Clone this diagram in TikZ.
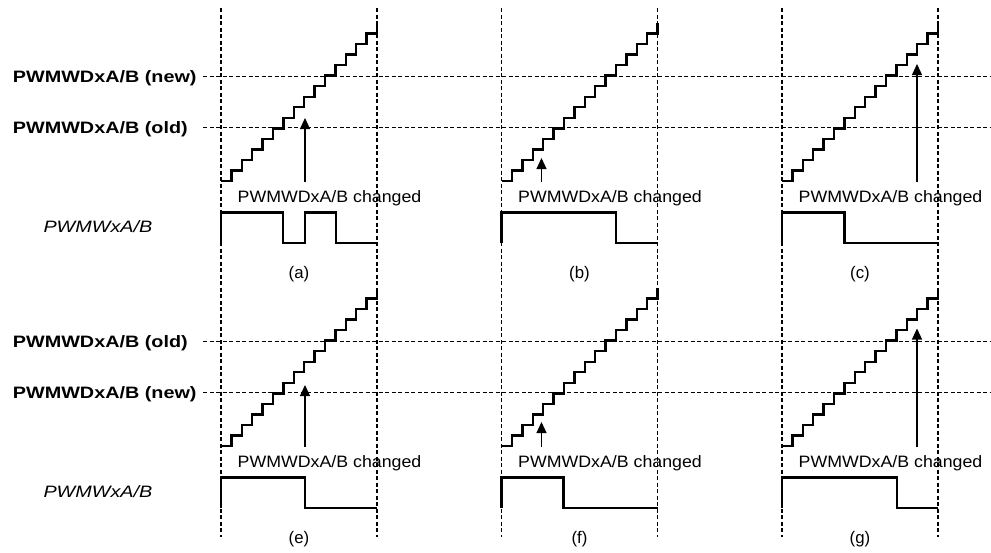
\documentclass[tikz,border=0pt]{standalone}
\usepackage{fontspec}
\setmainfont{Liberation Sans}
\newfontfamily\widefont[FakeStretch=1.2]{Liberation Sans}
\newfontfamily\chgfont[FakeStretch=1.077]{Liberation Sans}
\usetikzlibrary{arrows.meta}
\tikzset{
  stair/.style={line width=2.4pt, line join=miter},
  wave/.style={line width=2.4pt, line join=miter},
  dsh/.style={line width=1.1pt, dash pattern=on 4pt off 2.5pt},
  arr/.style={line width=1.1pt, -{Triangle[length=11pt,width=10pt]}},
  chg/.style={anchor=base, inner sep=0pt, font=\chgfont\fontsize{16.5}{19}\selectfont},
  plbl/.style={anchor=base, inner sep=0pt, font=\fontsize{16.8}{19}\selectfont},
  lvl/.style={anchor=base west, inner sep=0pt, font=\widefont\bfseries\fontsize{16.5}{19}\selectfont},
  sig/.style={anchor=base west, inner sep=0pt, font=\widefont\itshape\fontsize{16.5}{19}\selectfont},
}
\begin{document}
\begin{tikzpicture}[x=1pt,y=-1pt]
\useasboundingbox (0,0) rectangle (991,552);
% vertical dashed lines
\foreach \X in {221,501.5,782}{
  \draw[dsh] (\X,8) -- (\X,537);
  \draw[dsh] (\X+156,8) -- (\X+156,537);
}
% horizontal level lines and labels
\node[lvl] (lnew1) at (12.7,82.5) {PWMWDxA/B (new)};
\node[lvl] (lold1) at (12.7,133.5) {PWMWDxA/B (old)};
\node[lvl] (lold2) at (12.7,347.5) {PWMWDxA/B (old)};
\node[lvl] (lnew2) at (12.7,398.5) {PWMWDxA/B (new)};
\coordinate (hn1) at (203,76.7);
\coordinate (ho1) at (203,127.7);
\coordinate (ho2) at (203,341.7);
\coordinate (hn2) at (203,392.7);
\draw[dsh] (hn1) -- (991,76.7);
\draw[dsh] (ho1) -- (991,127.7);
\draw[dsh] (ho2) -- (991,341.7);
\draw[dsh] (hn2) -- (991,392.7);
\node[sig] (sig1) at (43.3,232.6) {PWMWxA/B};
\node[sig] (sig2) at (43.3,497.6) {PWMWxA/B};
% panel (a)
\begin{scope}[shift={(221,0)}]
  \draw[stair] (0,181) \foreach \k in {1,...,15}{ -- ++(10.4,0) -- ++(0,-10.533)};
  \draw[wave] (0,243) -- (0,212.3) -- (62,212.3) -- (62,243) -- (84,243) -- (84,212.3) -- (115,212.3) -- (115,243) -- (156,243);
  \coordinate (a-from) at (84,181.7);
  \coordinate (a-to) at (84,118);
  \draw[arr] (a-from) -- (a-to);
  \node[chg] (a-chg) at (108.5,202) {PWMWDxA/B changed};
  \node[plbl] (a-lbl) at (78,278) {(a)};
\end{scope}
% panel (b)
\begin{scope}[shift={(501.5,0)}]
  \draw[stair] (0,181) \foreach \k in {1,...,15}{ -- ++(10.4,0) -- ++(0,-10.533)};
  \draw[wave] (0,243) -- (0,212.3) -- (114.5,212.3) -- (114.5,243) -- (156,243);
  \coordinate (b-from) at (40,181.7);
  \coordinate (b-to) at (40,158);
  \draw[arr] (b-from) -- (b-to);
  \node[chg] (b-chg) at (108.5,202) {PWMWDxA/B changed};
  \node[plbl] (b-lbl) at (78,278) {(b)};
\end{scope}
% panel (c)
\begin{scope}[shift={(782,0)}]
  \draw[stair] (0,181) \foreach \k in {1,...,15}{ -- ++(10.4,0) -- ++(0,-10.533)};
  \draw[wave] (0,243) -- (0,212.3) -- (62.5,212.3) -- (62.5,243) -- (156,243);
  \coordinate (c-from) at (135,181.7);
  \coordinate (c-to) at (135,64);
  \draw[arr] (c-from) -- (c-to);
  \node[chg] (c-chg) at (108.5,202) {PWMWDxA/B changed};
  \node[plbl] (c-lbl) at (78,278) {(c)};
\end{scope}
% panel (e)
\begin{scope}[shift={(221,265)}]
  \draw[stair] (0,181) \foreach \k in {1,...,15}{ -- ++(10.4,0) -- ++(0,-10.533)};
  \draw[wave] (0,243) -- (0,212.3) -- (84,212.3) -- (84,243) -- (156,243);
  \coordinate (e-from) at (84,181.7);
  \coordinate (e-to) at (84,120);
  \draw[arr] (e-from) -- (e-to);
  \node[chg] (e-chg) at (108.5,202) {PWMWDxA/B changed};
  \node[plbl] (e-lbl) at (78,278) {(e)};
\end{scope}
% panel (f)
\begin{scope}[shift={(501.5,265)}]
  \draw[stair] (0,181) \foreach \k in {1,...,15}{ -- ++(10.4,0) -- ++(0,-10.533)};
  \draw[wave] (0,243) -- (0,212.3) -- (62,212.3) -- (62,243) -- (156,243);
  \coordinate (f-from) at (40,181.7);
  \coordinate (f-to) at (40,157);
  \draw[arr] (f-from) -- (f-to);
  \node[chg] (f-chg) at (108.5,202) {PWMWDxA/B changed};
  \node[plbl] (f-lbl) at (78,278) {(f)};
\end{scope}
% panel (g)
\begin{scope}[shift={(782,265)}]
  \draw[stair] (0,181) \foreach \k in {1,...,15}{ -- ++(10.4,0) -- ++(0,-10.533)};
  \draw[wave] (0,243) -- (0,212.3) -- (115,212.3) -- (115,243) -- (156,243);
  \coordinate (g-from) at (135,181.7);
  \coordinate (g-to) at (135,63.5);
  \draw[arr] (g-from) -- (g-to);
  \node[chg] (g-chg) at (108.5,202) {PWMWDxA/B changed};
  \node[plbl] (g-lbl) at (78,278) {(g)};
\end{scope}
\end{tikzpicture}
\end{document}
